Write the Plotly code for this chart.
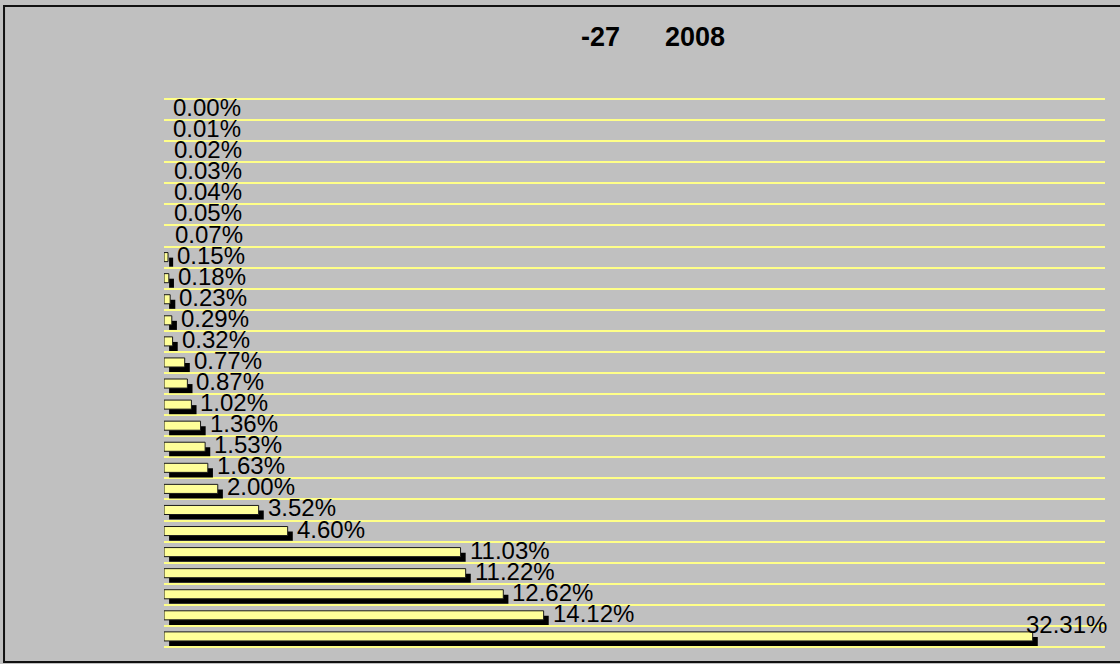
import plotly.graph_objects as go

# bottom-to-top order (plotly puts the first category at the bottom)
categories = [f"c{i:02d}" for i in range(1, 27)]
shares = [32.31, 14.12, 12.62, 11.22, 11.03, 4.60, 3.52, 2.00, 1.63, 1.53,
          1.36, 1.02, 0.87, 0.77, 0.32, 0.29, 0.23, 0.18, 0.15, 0.07,
          0.05, 0.04, 0.03, 0.02, 0.01, 0.00]
title_text = "-27\u00a0\u00a0\u00a0\u00a0\u00a0\u00a02008"

BG = "#C0C0C0"
BAR_W = 0.43
SHADOW_DX = 0.19   # ~5px in x units
SHADOW_DY = 0.24   # ~5px in category units

# the tiniest bars don't show up at all in the original
visible = [v >= 0.1 for v in shares]
outline_w = [1 if s else 0 for s in visible]
shadow_col = ["black" if s else "rgba(0,0,0,0)" for s in visible]
bar_col = ["#FFFF99" if s else "rgba(0,0,0,0)" for s in visible]

fig = go.Figure()

# black drop shadow under each bar
fig.add_trace(go.Bar(
    y=categories, x=shares, orientation="h",
    base=SHADOW_DX, width=BAR_W, offset=-BAR_W / 2 - SHADOW_DY,
    marker=dict(color=shadow_col, line=dict(width=0)),
    hoverinfo="skip", showlegend=False,
))

# the yellow bars
fig.add_trace(go.Bar(
    y=categories, x=shares, orientation="h",
    width=BAR_W, offset=-BAR_W / 2,
    marker=dict(color=bar_col, line=dict(color="#1a1a1a", width=outline_w)),
    showlegend=False,
))

# value labels -- the biggest one sits up and to the left like the original
for cat, val in zip(categories, shares):
    big = val == max(shares)
    fig.add_annotation(
        x=val, y=cat, text=f"{val:.2f}%", showarrow=False,
        xanchor="left", yanchor="middle",
        xshift=-9 if big else 7, yshift=12 if big else 2,
        font=dict(family="Liberation Sans, Arial", size=24, color="black"),
    )

fig.add_annotation(
    x=0.52, y=1.11, xref="paper", yref="paper", text=f"<b>{title_text}</b>",
    showarrow=False, xanchor="center", yanchor="middle",
    font=dict(family="Liberation Sans, Arial", size=27, color="black"),
)

# outer frame of the chart (right edge falls off the page like the original)
fig.add_shape(type="rect", xref="paper", yref="paper",
              x0=-0.170, x1=1.06, y0=-0.0255, y1=1.1675,
              line=dict(color="#111111", width=2), layer="below")

n = len(categories)
fig.update_layout(
    width=1120, height=664,
    margin=dict(l=164, r=15, t=98, b=16),
    paper_bgcolor=BG, plot_bgcolor=BG,
    barmode="overlay",
    xaxis=dict(range=[0, 35], showgrid=False, zeroline=False,
               showticklabels=False, showline=False, fixedrange=True),
    # a little slack so the outer boundary gridlines get drawn too
    yaxis=dict(type="category", categoryorder="array", categoryarray=categories,
               range=[-0.55, n - 0.45],
               showticklabels=False, showgrid=True, tickson="boundaries",
               gridcolor="#FFFF88", gridwidth=2, ticks="",
               zeroline=False, showline=False, fixedrange=True),
)

# page has an 8px body margin by default, drop it so the chart sits at 0,0
fig.write_html("out.html", config={"displayModeBar": False},
               post_script="document.body.style.margin='0';")
